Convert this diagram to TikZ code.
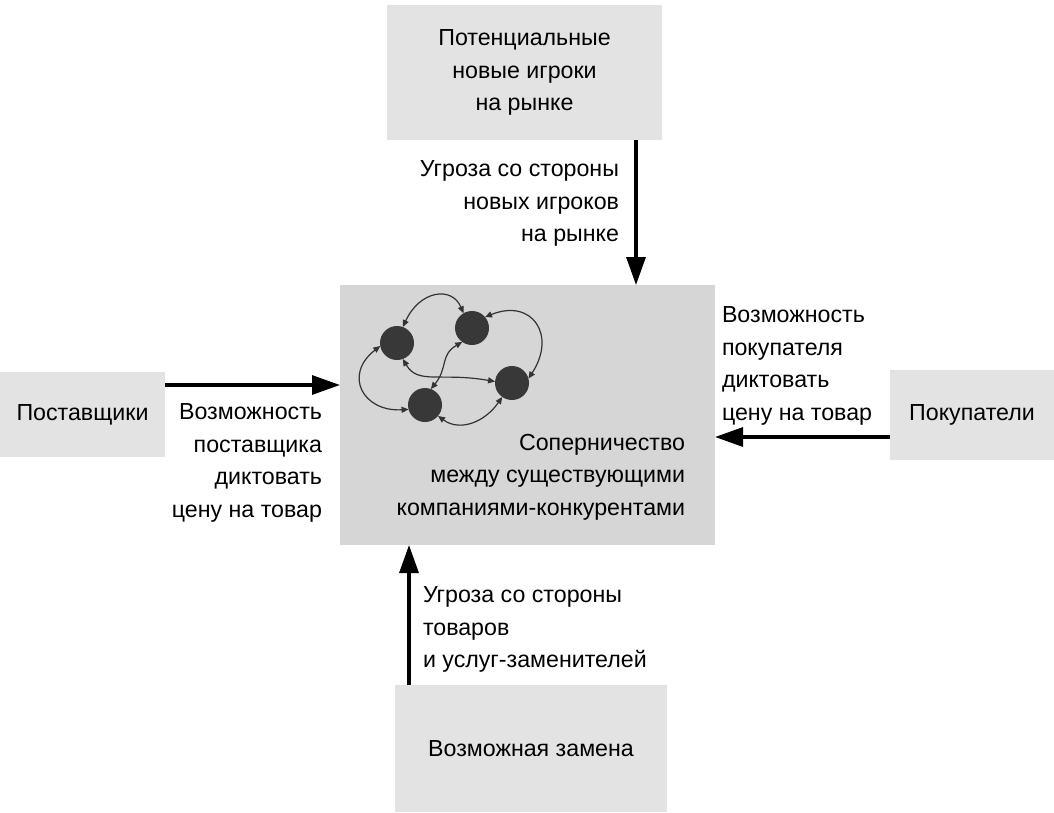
\documentclass[tikz,border=0pt]{standalone}
\usepackage{fontspec}
\setmainfont{Liberation Sans}
\usetikzlibrary{arrows.meta}
\begin{document}
\begin{tikzpicture}[x=1pt,y=-1pt,
  every node/.style={inner sep=0pt,outer sep=0pt},
  txt/.style={font=\fontsize{23.2}{32.5}\selectfont},
  area/.style={fill=black!11,draw=none,txt},
  core/.style={fill=black!16,draw=none},
  bigarrow/.style={line width=3.2pt,-{Triangle[length=28pt,width=19pt]}},
  firm/.style={circle,fill=black!78,minimum size=34pt},
  rivalry/.style={line width=1.2pt,black!80,{Triangle[length=7pt,width=6pt]}-{Triangle[length=7pt,width=6pt]}}]
\useasboundingbox (0,0) rectangle (1054,812);

% areas
\node[area,minimum width=275pt,minimum height=135pt,align=center] (top) at (524.5,72.5)
  {Потенциальные\\новые игроки\\на рынке};
\node[core,minimum width=375pt,minimum height=260pt] (center) at (527.5,415) {};
\node[area,minimum width=165pt,minimum height=85pt] (left) at (82.5,414.5) {Поставщики};
\node[area,minimum width=164pt,minimum height=90pt] (right) at (972,415) {Покупатели};
\node[area,minimum width=272pt,minimum height=127pt] (bottom) at (531,748.5) {Возможная замена};

\node[txt,align=right,anchor=north east] (ctext) at (685,434)
  {Соперничество\\между существующими\\компаниями-конкурентами};

% competing firms
\node[firm] (A) at (397,343) {};
\node[firm] (B) at (472,328) {};
\node[firm] (C) at (512,383) {};
\node[firm] (D) at (425,405) {};
\draw[rivalry] (A.70) .. controls (420,290) and (452,286) .. (B.120);
\draw[rivalry] (B.40) .. controls (532,298) and (557,335) .. (C.15);
\draw[rivalry] (A.190) .. controls (343,375) and (363,412) .. (D.195);
\draw[rivalry] (D.320) .. controls (460,432) and (485,422) .. (C.235);
\draw[rivalry] (A.290) .. controls (418,385) and (440,372) .. (C.175);
\draw[rivalry] (B.235) .. controls (440,355) and (448,368) .. (D.70);

% forces
\draw[bigarrow] (top.south -| 636,0) -- (center.north -| 636,0);
\draw[bigarrow] (left.east |- 0,385) -- (center.west |- 0,385);
\draw[bigarrow] (right.west |- 0,437) -- (center.east |- 0,437);
\draw[bigarrow] (bottom.north -| 409,0) -- (center.south -| 409,0);

% labels
\node[txt,align=right,anchor=north east] (ltop) at (619,161)
  {Угроза со стороны\\новых игроков\\на рынке};
\node[txt,align=right,anchor=north east] (lleft) at (322,404)
  {Возможность\\поставщика\\диктовать\\цену на товар};
\node[txt,align=left,anchor=north west] (lright) at (722,307)
  {Возможность\\покупателя\\диктовать\\цену на товар};
\node[txt,align=left,anchor=north west] (lbottom) at (423,587)
  {Угроза со стороны\\товаров\\и услуг-заменителей};
\end{tikzpicture}
\end{document}
